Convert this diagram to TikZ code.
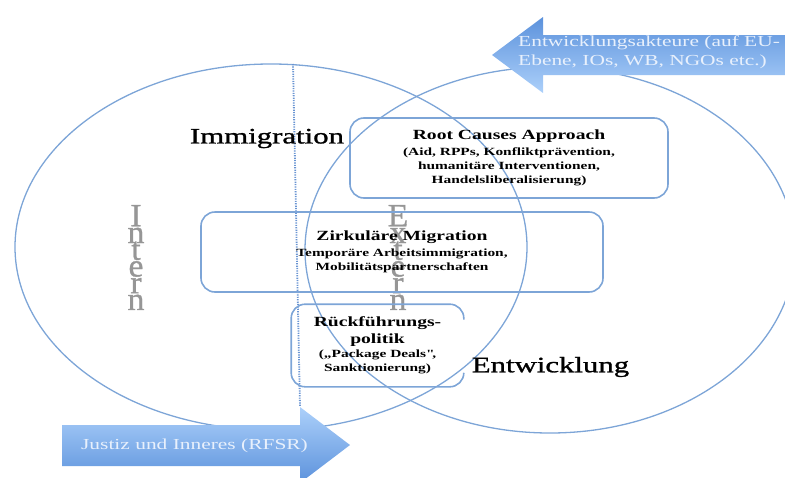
\documentclass[tikz,border=0pt]{standalone}
\usepackage{fontspec}
\usepackage{graphicx}
\setmainfont{Liberation Serif}[FakeStretch=1.4]
\newfontfamily\heavyserif{Liberation Serif}[FakeStretch=1.4, FakeBold=1.2]
\usetikzlibrary{calc}
\definecolor{ellc}{RGB}{125,165,215}
\definecolor{boxc}{RGB}{125,165,215}
\definecolor{dotc}{RGB}{105,148,210}
\definecolor{arrdark}{RGB}{92,146,220}
\definecolor{arrlight}{RGB}{172,208,250}
\definecolor{arrtext}{RGB}{232,240,252}
\definecolor{lettergray}{RGB}{150,150,150}
\newcommand\letterstack[1]{\scalebox{1}[1.35]{\vbox{\baselineskip=12.4pt\lineskiplimit=-100pt\lineskip=0pt\halign{\hfil##\hfil\cr#1}}}}
\tikzset{
  venn/.style={draw=ellc, line width=1.3pt},
  boxline/.style={draw=boxc, line width=1.6pt, rounded corners=14pt},
  pbox/.style={boxline, align=center, inner sep=0pt, font=\bfseries\fontsize{11}{14}\selectfont},
  bigword/.style={font=\heavyserif\fontsize{22}{26}\selectfont, inner sep=0pt},
  vword/.style={text=lettergray, font=\heavyserif\fontsize{24}{24}\selectfont, inner sep=0pt},
  arrowtxt/.style={text=arrtext, font=\fontsize{15.3}{19}\selectfont, inner sep=0pt, align=left},
  dotline/.style={draw=dotc, line width=1.8pt, dash pattern=on 1.2pt off 1.2pt},
}
\begin{document}
\begin{tikzpicture}[x=1pt,y=-1pt]
\useasboundingbox (0,0) rectangle (785,477);
\clip (0,0) rectangle (785,477);
% Venn ellipses
\draw[venn] (271,247) ellipse [x radius=256pt, y radius=183pt];
\draw[venn] (550,250) ellipse [x radius=245pt, y radius=183pt];
% dotted divider
\coordinate (dtop) at (293,64);
\coordinate (dbot) at (300,407);
\draw[dotline] (dtop) -- (dbot);
% vertical words
\node[vword] (intern) at (136,257.5) {\letterstack{I\cr n\cr t\cr e\cr r\cr n\cr}};
\node[vword] (extern) at (398,257.5) {\letterstack{E\cr x\cr t\cr e\cr r\cr n\cr}};
% boxes
\node[pbox, minimum width=318pt, minimum height=80pt] (root) at (509,158)
  {{\fontsize{14}{17}\selectfont Root Causes Approach}\\[2pt]
   (Aid, RPPs, Konfliktprävention,\\ humanitäre Interventionen,\\ Handelsliberalisierung)};
\node[pbox, minimum width=402pt, minimum height=80pt] (zirk) at (402,252)
  {{\fontsize{14}{17}\selectfont Zirkuläre Migration}\\[2pt]
   Temporäre Arbeitsimmigration,\\ Mobilitätspartnerschaften};
\node[pbox, draw=none, minimum width=171pt, minimum height=81pt] (rueck) at (377.5,345.5)
  {{\fontsize{14}{17}\selectfont Rückführungs-}\\[3pt]
   {\fontsize{14}{17}\selectfont politik}\\
   („Package Deals\textquotedbl,\\ Sanktionierung)};
\draw[boxline] ($(rueck.east)+(0,-26)$) |- (rueck.north west) |- (rueck.south east) -- ($(rueck.east)+(0,28)$);
% big words
\node[bigword] (imm) at (267,138.5) {Immigration};
\node[bigword] (entw) at (550.5,367) {Entwicklung};
% arrows
\shade[top color=arrdark, bottom color=arrlight]
  (492,55) -- (543,17) -- (543,35) -- (790,35) -- (790,75) -- (543,75) -- (543,93) -- cycle;
\node[arrowtxt, anchor=west] (entwakt) at (518,52.5)
  {Entwicklungsakteure (auf EU-\\Ebene, IOs, WB, NGOs etc.)};
\shade[top color=arrlight, bottom color=arrdark]
  (62,425) -- (300,425) -- (300,407) -- (350,445) -- (300,483) -- (300,466) -- (62,466) -- cycle;
\node[arrowtxt] (justiz) at (194.5,446) {Justiz und Inneres (RFSR)};
\end{tikzpicture}
\end{document}
